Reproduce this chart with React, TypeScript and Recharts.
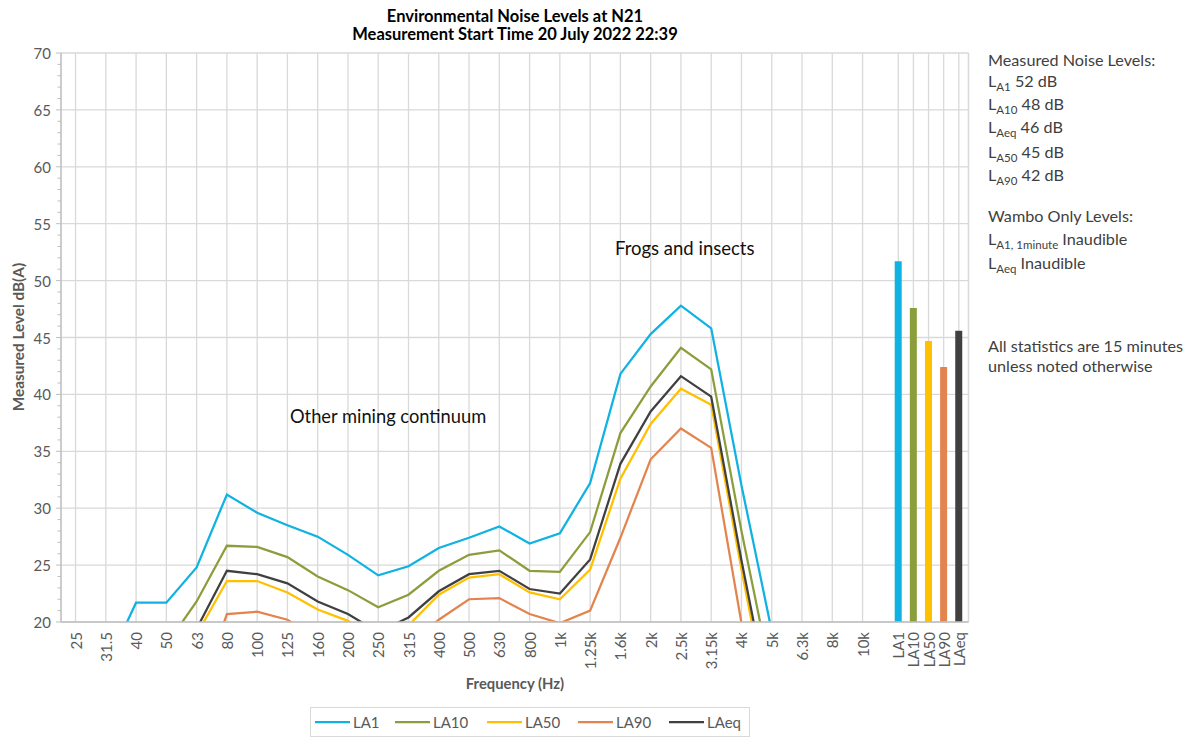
import {
  Bar,
  CartesianGrid,
  Cell,
  ComposedChart,
  Line,
  ReferenceLine,
  XAxis,
  YAxis,
} from "recharts";

const FREQ_LABELS = [
  "25", "31.5", "40", "50", "63", "80", "100", "125", "160", "200", "250",
  "315", "400", "500", "630", "800", "1k", "1.25k", "1.6k", "2k", "2.5k",
  "3.15k", "4k", "5k", "6.3k", "8k", "10k",
];

// values under 20 dB fall below the axis and are clipped, as in the original
const LA1 = [15, 16, 21.7, 21.7, 24.8, 31.2, 29.6, 28.5, 27.5, 25.9, 24.1, 24.9, 26.5, 27.4, 28.4, 26.9, 27.8, 32.2, 41.8, 45.3, 47.8, 45.8, 32.0, 19.2, 14, 12, 11];
const LA10 = [14, 15, 16, 18, 21.8, 26.7, 26.6, 25.7, 24.0, 22.8, 21.3, 22.4, 24.5, 25.9, 26.3, 24.5, 24.4, 27.9, 36.6, 40.7, 44.1, 42.2, 28.0, 15, 12, 10, 9];
const LA50 = [12, 13, 14, 15, 18.9, 23.6, 23.6, 22.6, 21.1, 20.1, 18.5, 19.7, 22.4, 23.9, 24.2, 22.6, 22.0, 24.6, 32.6, 37.4, 40.5, 39.1, 24.6, 11, 9, 8, 7];
const LA90 = [8, 9, 10, 11, 13, 20.7, 20.9, 20.2, 18.5, 17.5, 17, 18, 20.2, 22.0, 22.1, 20.7, 19.9, 21.0, 27.4, 34.3, 37.0, 35.3, 19.9, 8, 7, 6, 5];
const LAEQ = [13, 14, 15, 16, 19.4, 24.5, 24.2, 23.4, 21.8, 20.7, 19.1, 20.4, 22.7, 24.2, 24.5, 22.9, 22.5, 25.5, 33.9, 38.5, 41.6, 39.8, 25.4, 12, 10, 9, 8];

const BAR_LABELS = ["LA1", "LA10", "LA50", "LA90", "LAeq"];
const BAR_VALUES = [51.7, 47.6, 44.7, 42.4, 45.6];

const Y_TICKS = [20, 25, 30, 35, 40, 45, 50, 55, 60, 65, 70];

const COLORS: Record<string, string> = {
  LA1: "#0fb2e2",
  LA10: "#8a9e3c",
  LA50: "#ffc000",
  LA90: "#e3844f",
  LAeq: "#404040",
};

const FONT = "Lato, Calibri, 'Open Sans', sans-serif";
const AXIS_GREY = "#595959";
const GRID = "#d9d9d9";

// x layout: frequency bands sit at 0..26, the summary bars are packed at half spacing after them
const X_MIN = -0.48;
const X_MAX = 29.5;
const BAR_START = 27.18;
const BAR_STEP = 0.5;

const barPos = BAR_LABELS.map((_, k) => BAR_START + k * BAR_STEP);
const tickPos = FREQ_LABELS.map((_, i) => i).concat(barPos);
const tickText = FREQ_LABELS.concat(BAR_LABELS);

const minorTicks: number[] = [];
for (let v = 20; v <= 70; v++) minorTicks.push(v);

const data = [
  ...FREQ_LABELS.map((f, i) => ({
    x: i,
    freq: f,
    LA1: LA1[i],
    LA10: LA10[i],
    LA50: LA50[i],
    LA90: LA90[i],
    LAeq: LAEQ[i],
  })),
  ...BAR_LABELS.map((b, k) => ({ x: barPos[k], freq: b, level: BAR_VALUES[k] })),
];

const XTick = (props: any) => {
  const { x, y, payload } = props;
  const idx = tickPos.findIndex((p) => Math.abs(p - payload.value) < 1e-6);
  if (idx < 0) return null;
  const ty = y + 10;
  return (
    <text
      x={x}
      y={ty}
      transform={`rotate(-90 ${x} ${ty})`}
      textAnchor="end"
      dominantBaseline="central"
      fill={AXIS_GREY}
      fontSize={15}
      fontFamily={FONT}
    >
      {tickText[idx]}
    </text>
  );
};

const YTick = (props: any) => {
  const { x, y, payload } = props;
  const major = payload.value % 5 === 0;
  return (
    <g>
      <line x1={x - (major ? 5 : 3.5)} x2={x} y1={y} y2={y} stroke="#bfbfbf" strokeWidth={1} />
      {major && (
        <text
          x={x - 10}
          y={y}
          textAnchor="end"
          dominantBaseline="central"
          fill={AXIS_GREY}
          fontSize={15}
          fontFamily={FONT}
        >
          {payload.value}
        </text>
      )}
    </g>
  );
};

const Sub = ({ children }: { children: string }) => (
  <span style={{ fontSize: 11.5, verticalAlign: "-4px" }}>{children}</span>
);

const noteLine = (top: number, content: React.ReactNode) => (
  <div
    style={{
      position: "absolute",
      left: 988,
      top: top - 10,
      height: 20,
      lineHeight: "20px",
      fontSize: 16.2,
      color: "#404040",
      whiteSpace: "nowrap",
    }}
  >
    {content}
  </div>
);

const SERIES = ["LA1", "LA10", "LA50", "LA90", "LAeq"];
const LEGEND_X = [315, 395, 487, 578, 669];

export default function App() {
  return (
    <div
      style={{
        position: "absolute",
        left: 0,
        top: 0,
        width: 1191,
        height: 738,
        background: "#fff",
        fontFamily: FONT,
      }}
    >
      <ComposedChart
        width={1191}
        height={738}
        data={data}
        margin={{ top: 53, right: 222.5, bottom: 0, left: 0 }}
        style={{ fontFamily: FONT }}
      >
        <CartesianGrid stroke={GRID} strokeWidth={1.3} horizontalValues={Y_TICKS} />
        <XAxis
          dataKey="x"
          type="number"
          domain={[X_MIN, X_MAX]}
          ticks={tickPos}
          interval={0}
          height={116}
          tickLine={false}
          tickSize={0}
          tickMargin={0}
          axisLine={{ stroke: "#bfbfbf", strokeWidth: 1.5 }}
          tick={<XTick />}
        />
        <YAxis
          domain={[20, 70]}
          ticks={minorTicks}
          interval={0}
          allowDataOverflow
          width={61}
          tickLine={false}
          tickSize={0}
          tickMargin={0}
          axisLine={{ stroke: "#bfbfbf", strokeWidth: 1.3 }}
          tick={<YTick />}
        />
        <ReferenceLine x={X_MAX} stroke={GRID} strokeWidth={1.3} />
        <Bar dataKey="level" barSize={7} isAnimationActive={false}>
          {data.map((d, i) => (
            <Cell key={i} fill={COLORS[d.freq] ?? "none"} />
          ))}
        </Bar>
        {SERIES.map((s) => (
          <Line
            key={s}
            dataKey={s}
            stroke={COLORS[s]}
            strokeWidth={2.25}
            dot={false}
            activeDot={false}
            isAnimationActive={false}
          />
        ))}
      </ComposedChart>

      <div
        style={{
          position: "absolute",
          left: 265,
          top: 7,
          width: 500,
          textAlign: "center",
          fontSize: 16.5,
          fontWeight: 700,
          lineHeight: "18px",
          color: "#000",
        }}
      >
        Environmental Noise Levels at N21
        <br />
        Measurement Start Time 20 July 2022 22:39
      </div>

      <div
        style={{
          position: "absolute",
          left: 18,
          top: 337,
          transform: "translate(-50%, -50%) rotate(-90deg)",
          fontSize: 15.3,
          fontWeight: 700,
          color: AXIS_GREY,
          whiteSpace: "nowrap",
        }}
      >
        Measured Level dB(A)
      </div>

      <div
        style={{
          position: "absolute",
          left: 415,
          top: 674,
          width: 200,
          textAlign: "center",
          fontSize: 14.8,
          fontWeight: 700,
          color: AXIS_GREY,
          lineHeight: "18px",
        }}
      >
        Frequency (Hz)
      </div>

      <div
        style={{
          position: "absolute",
          left: 615,
          top: 237,
          fontSize: 18.5,
          lineHeight: "22px",
          color: "#111",
          whiteSpace: "nowrap",
        }}
      >
        Frogs and insects
      </div>
      <div
        style={{
          position: "absolute",
          left: 290,
          top: 405,
          fontSize: 18.3,
          lineHeight: "22px",
          color: "#111",
          whiteSpace: "nowrap",
        }}
      >
        Other mining continuum
      </div>

      {noteLine(60, "Measured Noise Levels:")}
      {noteLine(81, <>L<Sub>A1</Sub> 52 dB</>)}
      {noteLine(104, <>L<Sub>A10</Sub> 48 dB</>)}
      {noteLine(127, <>L<Sub>Aeq</Sub> 46 dB</>)}
      {noteLine(152, <>L<Sub>A50</Sub> 45 dB</>)}
      {noteLine(175, <>L<Sub>A90</Sub> 42 dB</>)}
      {noteLine(216, "Wambo Only Levels:")}
      {noteLine(239, <>L<Sub>A1, 1minute</Sub> Inaudible</>)}
      {noteLine(263, <>L<Sub>Aeq</Sub> Inaudible</>)}
      {noteLine(346, "All statistics are 15 minutes")}
      {noteLine(366, "unless noted otherwise")}

      <div
        style={{
          position: "absolute",
          left: 310,
          top: 707,
          width: 440,
          height: 30,
          boxSizing: "border-box",
          border: `1px solid ${GRID}`,
        }}
      >
        {SERIES.map((s, i) => (
          <div
            key={s}
            style={{
              position: "absolute",
              left: LEGEND_X[i] - 311,
              top: 0,
              height: 28,
              display: "flex",
              alignItems: "center",
            }}
          >
            <svg width={35} height={4}>
              <line x1={0} x2={35} y1={2} y2={2} stroke={COLORS[s]} strokeWidth={2.25} />
            </svg>
            <span style={{ marginLeft: 3, fontSize: 15, color: AXIS_GREY }}>{s}</span>
          </div>
        ))}
      </div>
    </div>
  );
}
